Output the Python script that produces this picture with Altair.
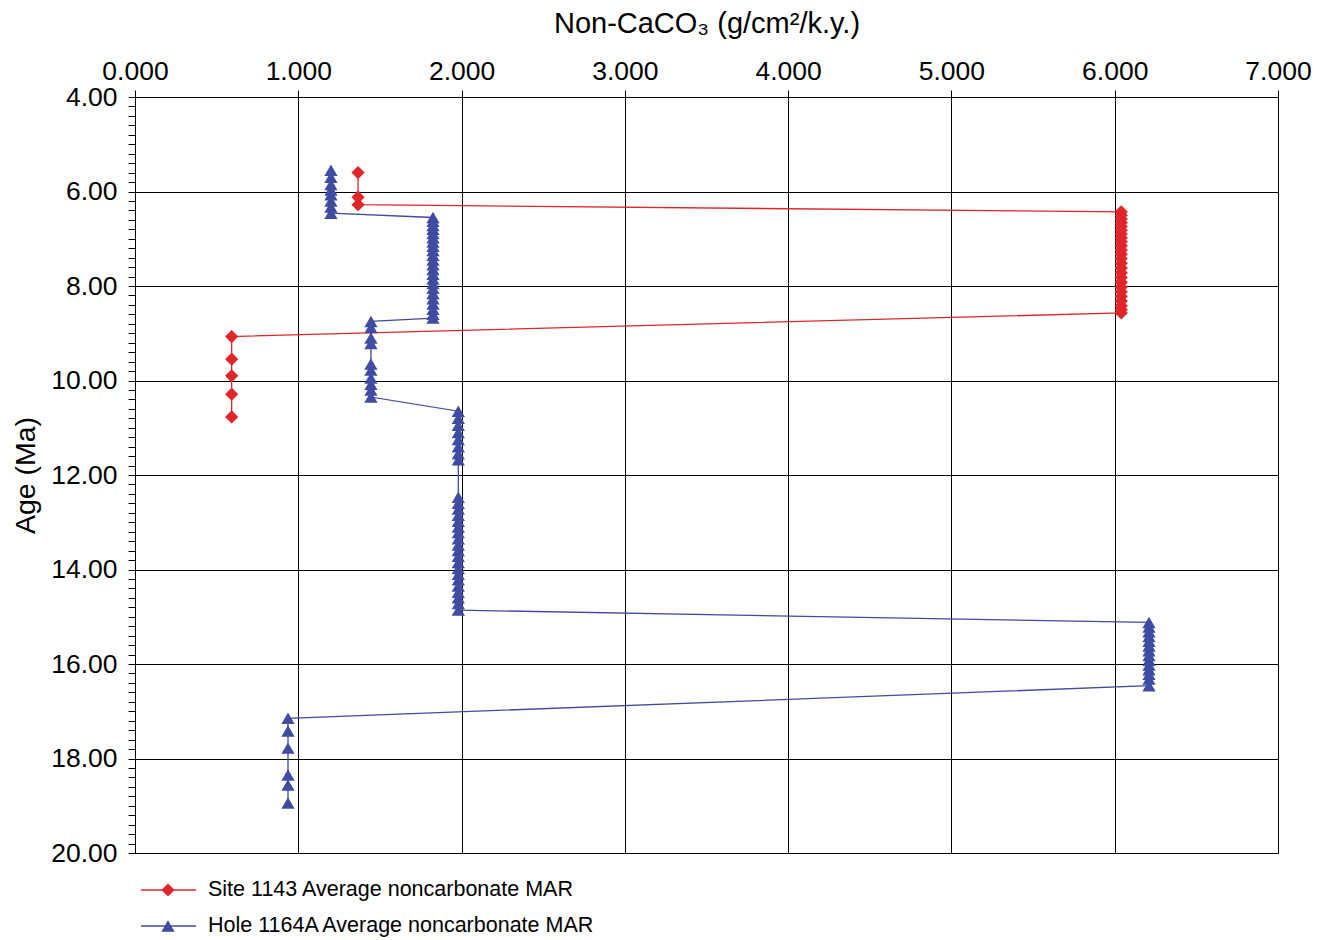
import altair as alt
import pandas as pd

series_names = ["Site 1143 Average noncarbonate MAR", "Hole 1164A Average noncarbonate MAR"]
series_colors = ["#E1262A", "#3F4CA1"]
series_shapes = ["diamond", "triangle-up"]

# Site 1143 (red diamonds)
site1143_mar = [1.366, 1.366, 1.366,
                6.04, 6.04, 6.04, 6.04, 6.04, 6.04, 6.04, 6.04, 6.04, 6.04, 6.04, 6.04, 6.04,
                6.04, 6.04, 6.04, 6.04, 6.04, 6.04, 6.04, 6.04, 6.04, 6.04, 6.04, 6.04,
                0.592, 0.592, 0.592, 0.592, 0.592]
site1143_age = [5.60, 6.12, 6.28,
                6.43, 6.50, 6.58, 6.66, 6.74, 6.82, 6.90, 6.98, 7.06, 7.15, 7.24, 7.33, 7.42,
                7.52, 7.62, 7.72, 7.82, 7.92, 8.02, 8.12, 8.22, 8.32, 8.42, 8.50, 8.57,
                9.07, 9.55, 9.90, 10.29, 10.77]

# Hole 1164A (blue triangles)
hole1164a_mar = [1.20, 1.20, 1.20, 1.20, 1.20, 1.20, 1.20, 1.20,
                 1.825, 1.825, 1.825, 1.825, 1.825, 1.825, 1.825, 1.825, 1.825, 1.825, 1.825, 1.825,
                 1.825, 1.825, 1.825, 1.825, 1.825, 1.825, 1.825, 1.825, 1.825, 1.825, 1.825,
                 1.445, 1.445, 1.445, 1.445, 1.445, 1.445, 1.445, 1.445, 1.445, 1.445,
                 1.98, 1.98, 1.98, 1.98, 1.98, 1.98, 1.98, 1.98,
                 1.98, 1.98, 1.98, 1.98, 1.98, 1.98, 1.98, 1.98, 1.98, 1.98, 1.98, 1.98, 1.98,
                 1.98, 1.98, 1.98, 1.98, 1.98, 1.98, 1.98,
                 6.21, 6.21, 6.21, 6.21, 6.21, 6.21, 6.21, 6.21, 6.21, 6.21, 6.21, 6.21, 6.21, 6.21,
                 0.937, 0.937, 0.937, 0.937, 0.937, 0.937]
hole1164a_age = [5.55, 5.70, 5.85, 5.97, 6.07, 6.20, 6.33, 6.46,
                 6.55, 6.63, 6.72, 6.80, 6.89, 6.98, 7.07, 7.16, 7.25, 7.35, 7.45, 7.55,
                 7.65, 7.75, 7.85, 7.95, 8.05, 8.16, 8.27, 8.38, 8.49, 8.60, 8.68,
                 8.75, 8.88, 9.10, 9.22, 9.65, 9.78, 9.95, 10.08, 10.20, 10.35,
                 10.65, 10.80, 10.95, 11.10, 11.25, 11.40, 11.55, 11.68,
                 12.47, 12.60, 12.72, 12.85, 12.98, 13.10, 13.22, 13.35, 13.48, 13.60, 13.72, 13.85, 13.98,
                 14.10, 14.22, 14.35, 14.48, 14.60, 14.72, 14.86,
                 15.12, 15.22, 15.32, 15.42, 15.52, 15.62, 15.72, 15.82, 15.92, 16.02, 16.12, 16.22, 16.32, 16.46,
                 17.15, 17.42, 17.78, 18.35, 18.56, 18.94]

x_ticks = [0, 1, 2, 3, 4, 5, 6, 7]
y_ticks = [round(4 + 0.2 * i, 1) for i in range(81)]

df = pd.concat([
    pd.DataFrame({"series": series_names[0], "mar": site1143_mar, "age": site1143_age}),
    pd.DataFrame({"series": series_names[1], "mar": hole1164a_mar, "age": hole1164a_age}),
], ignore_index=True)

FONT = "Liberation Sans"
major = "abs(datum.value/2 - round(datum.value/2)) < 0.01"

color = alt.Color("series:N", scale=alt.Scale(domain=series_names, range=series_colors), legend=None)
shape = alt.Shape("series:N", scale=alt.Scale(domain=series_names, range=series_shapes), legend=None)

x_enc = alt.X("mar:Q",
              scale=alt.Scale(domain=[0, 7], nice=False, zero=False),
              axis=alt.Axis(orient="top", values=x_ticks, tickCount=200, format=".3f",
                            title="Non-CaCO₃ (g/cm²/k.y.)",
                            titleFont=FONT, titleFontSize=29, titleFontWeight="normal",
                            titleColor="black", titlePadding=20,
                            labelFont=FONT, labelFontSize=26.5, labelColor="black",
                            labelPadding=5, labelFlush=False, labelOverlap=False,
                            tickSize=7, tickColor="black", domainColor="black",
                            grid=True, gridColor="black", gridWidth=1))
y_enc = alt.Y("age:Q",
              scale=alt.Scale(domain=[4, 20], reverse=True, nice=False, zero=False),
              axis=alt.Axis(values=y_ticks, tickCount=200,
                            labelExpr=f"{major} ? format(datum.value, '.2f') : ''",
                            title="Age (Ma)",
                            titleFont=FONT, titleFontSize=28.5, titleFontWeight="normal",
                            titleColor="black", titlePadding=10,
                            labelFont=FONT, labelFontSize=26.5, labelColor="black",
                            labelPadding=11, labelOverlap=False, labelFlush=False,
                            tickSize=7, tickColor="black", domainColor="black",
                            grid=True, gridColor="black", gridWidth=1,
                            gridOpacity={"condition": {"test": major, "value": 1}, "value": 0}))

base = alt.Chart(df)
lines = base.mark_line(strokeWidth=1.3).encode(
    x=x_enc, y=y_enc, color=color, detail="series:N", order=alt.Order("age:Q"))
points = base.mark_point(filled=True, size=175, opacity=1).encode(
    x="mar:Q", y="age:Q", color=color, shape=shape)

leg_df = pd.DataFrame({"series": series_names, "idx": [0, 1]})
leg = alt.Chart(leg_df).transform_calculate(ly="793 + 36 * datum.idx")
leg_y = alt.Y("ly:Q", scale=None, axis=None)
leg_rule = leg.mark_rule(strokeWidth=1.3).encode(
    x=alt.value(6), x2=alt.value(61), y=leg_y, color=color)
leg_pt = leg.mark_point(filled=True, size=175, opacity=1).encode(
    x=alt.value(33), y=leg_y, color=color, shape=shape)
leg_txt = leg.mark_text(align="left", baseline="middle", font=FONT, fontSize=21.5, color="black").encode(
    x=alt.value(73), y=leg_y, text="series:N")

chart = alt.layer(lines, points, leg_rule, leg_pt, leg_txt).properties(
    width=1143, height=756,
    padding={"left": 3, "top": 1, "right": 5, "bottom": 5},
).configure_view(stroke=None).configure(background="white")

chart.save("out.html", embed_options={"renderer": "svg", "actions": False})
